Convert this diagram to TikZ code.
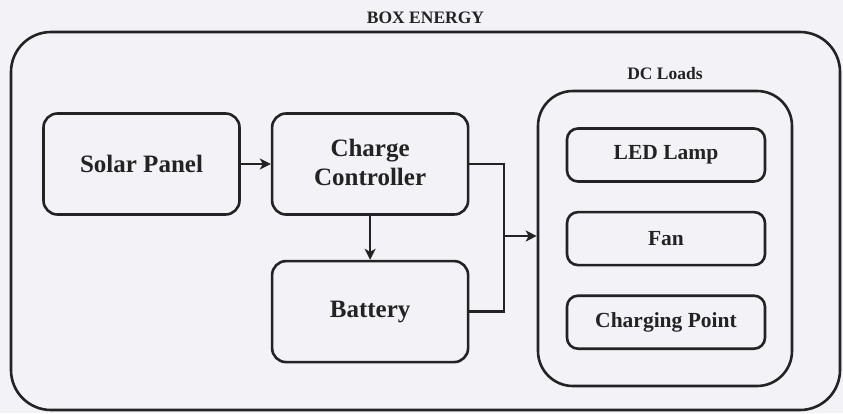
\documentclass[tikz,border=0pt]{standalone}
\usepackage{fontspec}
\setmainfont{Liberation Serif}
\usepackage{xcolor}
\usepackage{tikz}
\usetikzlibrary{positioning,arrows.meta}
\definecolor{paper}{HTML}{F3F2F7}
\definecolor{ink}{HTML}{232323}

\begin{document}
\begin{tikzpicture}[x=1pt,y=-1pt,>={Stealth[length=11pt,width=11pt,inset=3pt]},font=\bfseries,line width=2.6pt,draw=ink,text=ink]
\tikzstyle{blk}=[draw,rounded corners=14pt,minimum width=196pt,minimum height=101pt,inner sep=2pt,font=\fontsize{25}{29}\selectfont\bfseries,align=center]
\tikzstyle{load}=[draw,rounded corners=11pt,minimum width=198pt,minimum height=53pt,inner sep=2pt,font=\fontsize{21.5}{25}\selectfont\bfseries]
\tikzstyle{lbl}=[font=\fontsize{17.5}{20}\selectfont\bfseries,inner sep=1pt]
\fill[paper] (0,0) rectangle (843,413);
\useasboundingbox (0,0) rectangle (843,413);
% outer box
\node[draw,rounded corners=40pt,minimum width=829pt,minimum height=378pt] (box) at (425.5,221) {};
\node[lbl,above=5pt of box] (title) {BOX ENERGY};
% source side
\node[blk] (sp) at (141.5,164) {Solar Panel};
\node[blk,right=30pt of sp] (cc) {\raisebox{3pt}{Charge}\\\raisebox{3pt}{Controller}};
\node[blk,below=44pt of cc] (bat) {Battery};
% loads
\node[draw,rounded corners=35pt,minimum width=254pt,minimum height=295pt] (dc) at (665,238.5) {};
\node[lbl,above=8pt of dc] (dcl) {DC Loads};
\node[load] (led) at (666,155) {LED Lamp};
\node[load,below=28pt of led] (fan) {Fan};
\node[load,below=28pt of fan] (cp) {Charging Point};
% wiring
\coordinate (jn) at (504,236);
\draw[->] (sp) -- (cc);
\draw[->] (cc) -- (bat);
\draw (cc.east) -| (jn);
\draw (bat.east) -| (jn);
\draw[->] (jn) -- (jn -| dc.west);
\end{tikzpicture}
\end{document}
